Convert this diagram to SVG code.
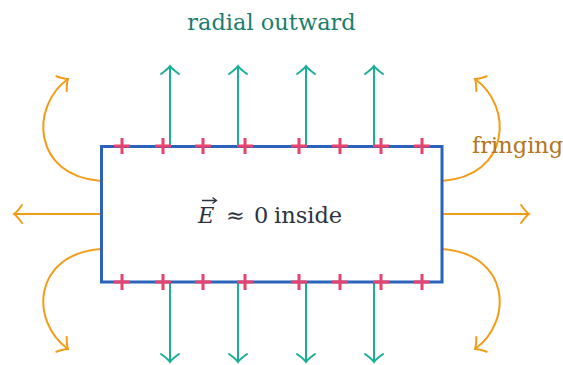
<svg xmlns="http://www.w3.org/2000/svg" width="563" height="365" viewBox="0 0 563 365">
<style>
.plate{fill:#ffffff;stroke:#2a63b9;stroke-width:3}
.plus{stroke:#e8436f;stroke-width:3;fill:none}
.field{stroke:#1aae98;stroke-width:2;fill:none;marker-end:url(#ht)}
.fringe{stroke:#f39c18;stroke-width:2;fill:none;marker-end:url(#ho)}
.lbl{font-family:"DejaVu Serif","Liberation Serif",serif;font-size:22.5px}
</style>
<defs>
<marker id="ht" markerUnits="userSpaceOnUse" markerWidth="24" markerHeight="24" viewBox="-12 -12 24 24" refX="0" refY="0" orient="auto" overflow="visible">
<path d="M-8,-9 Q-3,-2 0,0 Q-3,2 -8,9" fill="none" stroke="#1aae98" stroke-width="2" stroke-linecap="round"/>
</marker>
<marker id="ho" markerUnits="userSpaceOnUse" markerWidth="24" markerHeight="24" viewBox="-12 -12 24 24" refX="0" refY="0" orient="auto" overflow="visible">
<path d="M-8,-9 Q-3,-2 0,0 Q-3,2 -8,9" fill="none" stroke="#f39c18" stroke-width="2" stroke-linecap="round"/>
</marker>
</defs>
<rect width="563" height="365" fill="#ffffff"/>
<g id="connectors">
<line class="field" x1="170" y1="146" x2="170" y2="66"/>
<line class="field" x1="238" y1="146" x2="238" y2="66"/>
<line class="field" x1="306" y1="146" x2="306" y2="66"/>
<line class="field" x1="374" y1="146" x2="374" y2="66"/>
<line class="field" x1="170" y1="282" x2="170" y2="362"/>
<line class="field" x1="238" y1="282" x2="238" y2="362"/>
<line class="field" x1="306" y1="282" x2="306" y2="362"/>
<line class="field" x1="374" y1="282" x2="374" y2="362"/>
<line class="fringe" x1="101" y1="214" x2="14" y2="214"/>
<line class="fringe" x1="442" y1="214" x2="529" y2="214"/>
<path class="fringe" d="M101,181 C32,176 30,106 68,79"/>
<path class="fringe" d="M101,249 C32,254 30,322 68,349"/>
<path class="fringe" d="M442,181 C511,176 513,106 475,79"/>
<path class="fringe" d="M442,249 C511,254 513,322 475,349"/>
</g>
<g id="plate">
<rect class="plate" x="101.5" y="146.5" width="340.5" height="135.5"/>
<text class="lbl" fill="#2b3341"><tspan x="198" y="223" font-style="italic">E</tspan><tspan x="226" y="223">≈</tspan><tspan x="254" y="223">0</tspan><tspan x="274" y="223">inside</tspan></text>
<path d="M202,200.5 H216 M212.5,197.5 L216.5,200.5 L212.5,203.5" fill="none" stroke="#2b3341" stroke-width="1.3"/>
</g>
<g id="charges">
<path class="plus" d="M114,146H130M122,138V154 M155,146H171M163,138V154 M195,146H211M203,138V154 M237,146H253M245,138V154 M291,146H307M299,138V154 M332,146H348M340,138V154 M373,146H389M381,138V154 M414,146H430M422,138V154"/>
<path class="plus" d="M114,282H130M122,274V290 M155,282H171M163,274V290 M195,282H211M203,274V290 M237,282H253M245,274V290 M291,282H307M299,274V290 M332,282H348M340,274V290 M373,282H389M381,274V290 M414,282H430M422,274V290"/>
</g>
<g id="label-radial">
<text class="lbl" x="271.5" y="30" text-anchor="middle" fill="#1b7e6d">radial outward</text>
</g>
<g id="label-fringing">
<text class="lbl" x="472" y="153" fill="#b37620">fringing</text>
</g>
</svg>
